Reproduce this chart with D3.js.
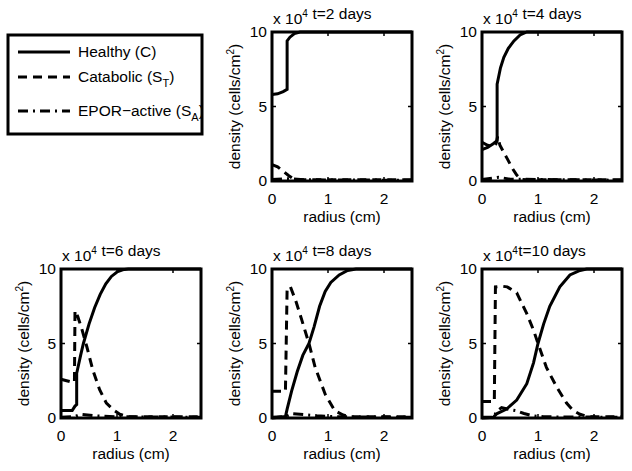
<!DOCTYPE html>
<html lang="en">
<head>
<meta charset="utf-8">
<title>Cell densities vs radius</title>
<script src="https://cdn.jsdelivr.net/npm/d3@7"></script>
<style>
  body { margin: 0; background: #fff; }
  text { font-family: Arial, "Liberation Sans", sans-serif; font-size: 15.5px; fill: #000; }
</style>
</head>
<body>
<script>
// values in units of 10^4 cells/cm^2, radius in cm
var days = [2, 4, 6, 8, 10];
var xTicks = [0, 1, 2];
var yTicks = [0, 5, 10];

var healthy2 = [[0,5.8],[0.1,5.85],[0.2,6.0],[0.27,6.15],[0.27,9.4],[0.32,9.65],[0.4,9.9],[0.5,10],[2.5,10]];
var catabolic2 = [[0,1.1],[0.1,0.95],[0.2,0.65],[0.3,0.35],[0.4,0.1],[0.5,0.08],[2.5,0.08]];
var epor2 = [[0,0.1],[0.3,0.15],[0.6,0.08],[2.5,0.05]];

var healthy4 = [[0,2.1],[0.1,2.25],[0.2,2.5],[0.27,2.7],[0.27,6.5],[0.33,7.6],[0.39,8.3],[0.47,8.9],[0.57,9.4],[0.68,9.8],[0.8,10],[2.5,10]];
var catabolic4 = [[0,2.6],[0.1,2.4],[0.2,2.3],[0.25,2.5],[0.28,3.0],[0.32,2.4],[0.45,1.5],[0.55,0.8],[0.62,0.4],[0.7,0.1],[0.8,0.08],[2.5,0.08]];
var epor4 = [[0,0.1],[0.3,0.25],[0.5,0.12],[2.5,0.05]];

var healthy6 = [[0,0.5],[0.2,0.5],[0.25,0.8],[0.28,0.9],[0.28,3.0],[0.35,4.2],[0.4,5.0],[0.5,6.3],[0.6,7.4],[0.7,8.3],[0.8,9.0],[0.9,9.5],[1.0,9.8],[1.1,9.95],[1.2,10],[2.5,10]];
var catabolic6 = [[0,2.6],[0.1,2.5],[0.2,2.4],[0.24,2.4],[0.25,7.2],[0.3,6.8],[0.37,6.0],[0.46,4.8],[0.57,3.2],[0.69,1.9],[0.81,1.0],[0.95,0.5],[1.05,0.25],[1.2,0.08],[2.5,0.08]];
var epor6 = [[0,0.05],[0.25,0.1],[0.35,0.25],[0.6,0.15],[1.0,0.08],[2.5,0.05]];

var healthy8 = [[0,0],[0.24,0.1],[0.27,0.6],[0.35,1.8],[0.45,3.1],[0.55,4.2],[0.66,5.0],[0.75,6.1],[0.85,7.5],[0.95,8.5],[1.05,9.1],[1.2,9.6],[1.35,9.9],[1.5,10],[2.5,10]];
var catabolic8 = [[0,1.8],[0.24,1.8],[0.27,8.7],[0.33,8.8],[0.43,7.8],[0.53,6.6],[0.66,5.0],[0.77,3.4],[0.95,1.6],[1.12,0.5],[1.27,0.2],[1.4,0.08],[2.5,0.08]];
var epor8 = [[0,0.05],[0.25,0.1],[0.35,0.3],[0.5,0.25],[0.8,0.15],[1.2,0.08],[2.5,0.05]];

var healthy10 = [[0,0],[0.2,0.05],[0.27,0.3],[0.44,0.6],[0.62,1.2],[0.8,2.3],[0.92,3.7],[1.0,5.0],[1.1,6.3],[1.21,7.5],[1.39,8.8],[1.57,9.6],[1.75,9.9],[1.87,10],[2.5,10]];
var catabolic10 = [[0,1.1],[0.22,1.1],[0.24,8.8],[0.35,8.85],[0.45,8.8],[0.62,8.4],[0.8,7.0],[0.92,5.9],[1.0,5.0],[1.15,3.4],[1.33,2.1],[1.51,1.0],[1.63,0.5],[1.75,0.25],[1.9,0.08],[2.5,0.08]];
var epor10 = [[0,0.05],[0.22,0.05],[0.25,0.4],[0.35,0.7],[0.45,0.6],[0.6,0.5],[0.75,0.3],[0.9,0.15],[1.1,0.08],[2.5,0.05]];

var seriesByDay = {
  2: [healthy2, catabolic2, epor2],
  4: [healthy4, catabolic4, epor4],
  6: [healthy6, catabolic6, epor6],
  8: [healthy8, catabolic8, epor8],
  10: [healthy10, catabolic10, epor10]
};

// layout
var w = 632, h = 471;
var pw = 140, ph = 149;
var slots = [[272, 32], [482, 32], [61, 269], [272, 269], [482, 269]];
var dashes = [null, "9,6", "10,5,2,5"];

var svg = d3.select("body").append("svg")
  .attr("width", w)
  .attr("height", h);

var line = d3.line();

days.forEach(function(t, i) {
  var left = slots[i][0], top = slots[i][1];
  var x = d3.scaleLinear().domain([0, 2.5]).range([left, left + pw]);
  var y = d3.scaleLinear().domain([0, 10]).range([top + ph, top]);
  var g = svg.append("g");

  //Curves
  seriesByDay[t].forEach(function(s, k) {
    g.append("path")
      .attr("d", line.x(function(d) { return x(d[0]); }).y(function(d) { return y(d[1]); })(s))
      .attr("fill", "none")
      .attr("stroke", "#000")
      .attr("stroke-width", 3)
      .attr("stroke-dasharray", dashes[k]);
  });

  //Inner ticks + labels
  xTicks.forEach(function(v) {
    g.append("line").attr("x1", x(v)).attr("x2", x(v)).attr("y1", top + ph).attr("y2", top + ph - 4)
      .attr("stroke", "#000").attr("stroke-width", 1.5);
    g.append("line").attr("x1", x(v)).attr("x2", x(v)).attr("y1", top).attr("y2", top + 4)
      .attr("stroke", "#000").attr("stroke-width", 1.5);
    g.append("text").attr("x", x(v)).attr("y", top + ph + 23)
      .attr("text-anchor", "middle").text(v);
  });
  yTicks.forEach(function(v) {
    g.append("line").attr("x1", left).attr("x2", left + 4).attr("y1", y(v)).attr("y2", y(v))
      .attr("stroke", "#000").attr("stroke-width", 1.5);
    g.append("line").attr("x1", left + pw).attr("x2", left + pw - 4).attr("y1", y(v)).attr("y2", y(v))
      .attr("stroke", "#000").attr("stroke-width", 1.5);
    g.append("text").attr("x", left - 5).attr("y", y(v) + 5)
      .attr("text-anchor", "end").text(v);
  });

  //Box
  g.append("rect")
    .attr("x", left).attr("y", top).attr("width", pw).attr("height", ph)
    .attr("fill", "none").attr("stroke", "#000").attr("stroke-width", 3);

  //Exponent label and title
  var ex = g.append("text").attr("x", left + 1).attr("y", top - 8);
  ex.append("tspan").text("x 10");
  ex.append("tspan").attr("dy", -7).style("font-size", "10px").text("4");
  g.append("text").attr("x", left + pw / 2).attr("y", top - 13)
    .attr("text-anchor", "middle").text("t=" + t + " days");

  //Axis labels
  g.append("text").attr("x", left + pw / 2).attr("y", top + ph + 41)
    .attr("text-anchor", "middle").text("radius (cm)");
  var yl = g.append("text")
    .attr("transform", "translate(" + (left - 32) + "," + (top + ph / 2) + ") rotate(-90)")
    .attr("text-anchor", "middle");
  yl.append("tspan").text("density (cells/cm");
  yl.append("tspan").attr("dy", -6).style("font-size", "10px").text("2");
  yl.append("tspan").attr("dy", 6).text(")");
});

//Legend
var lg = svg.append("g");
lg.append("clipPath").attr("id", "legclip")
  .append("rect").attr("x", 8).attr("y", 35).attr("width", 194).attr("height", 99);
var entries = [
  { name: "Healthy (C)", sub: null, y: 52 },
  { name: "Catabolic (S", sub: "T", y: 77 },
  { name: "EPOR\u2212active (S", sub: "A", y: 111 }
];
entries.forEach(function(e, k) {
  lg.append("line").attr("x1", 18).attr("x2", 70).attr("y1", e.y).attr("y2", e.y)
    .attr("stroke", "#000").attr("stroke-width", 3).attr("stroke-dasharray", dashes[k]);
  var tx = lg.append("text").attr("x", 78).attr("y", e.y + 5).attr("clip-path", "url(#legclip)");
  tx.append("tspan").text(e.name);
  if (e.sub) {
    tx.append("tspan").attr("dy", 5).style("font-size", "11px").text(e.sub);
    tx.append("tspan").attr("dy", -5).text(")");
  }
});
lg.append("rect").attr("x", 8).attr("y", 35).attr("width", 194).attr("height", 99)
  .attr("fill", "none").attr("stroke", "#000").attr("stroke-width", 3);
</script>
</body>
</html>
